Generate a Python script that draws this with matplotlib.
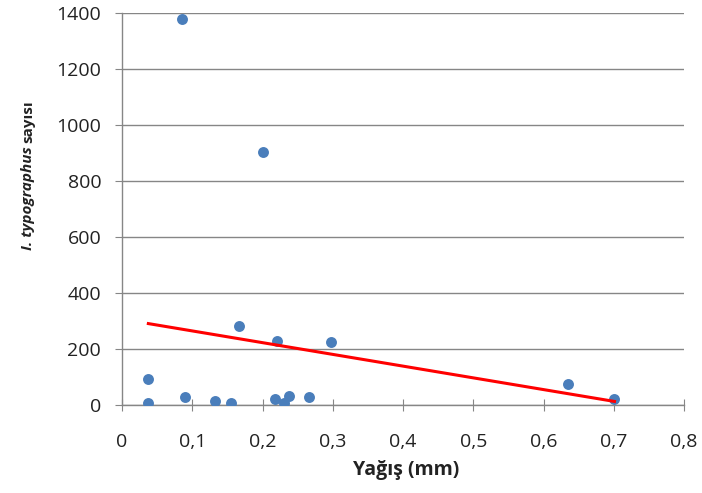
import numpy as np
import matplotlib.pyplot as plt

# yağış (mm) ve I. typographus sayısı
yagis = [0.086, 0.200, 0.0375, 0.0375, 0.089, 0.132, 0.155, 0.167,
         0.221, 0.218, 0.230, 0.237, 0.266, 0.297, 0.635, 0.701]
sayi = [1379, 904, 93, 6, 27, 15, 8, 281,
        230, 21, 6, 32, 30, 226, 74, 20]

x_ticks = [0, 0.1, 0.2, 0.3, 0.4, 0.5, 0.6, 0.7, 0.8]
x_labels = ['0', '0,1', '0,2', '0,3', '0,4', '0,5', '0,6', '0,7', '0,8']
y_ticks = [0, 200, 400, 600, 800, 1000, 1200, 1400]

plt.rcParams['font.family'] = ['Open Sans', 'DejaVu Sans']

fig = plt.figure(figsize=(7.02, 4.93), dpi=100)
ax = fig.add_axes([0.1738, 0.1785, 0.8006, 0.7945])

gray = '#868686'
ax.scatter(yagis, sayi, s=62, color='#4A7EBB', zorder=3, linewidths=0)

# doğrusal eğilim çizgisi (veri aralığında)
k, b = np.polyfit(yagis, sayi, 1)
xs = np.array([min(yagis), max(yagis)])
ax.plot(xs, k * xs + b, color='#FF0000', lw=2.2, zorder=4)

ax.set_xlim(0, 0.8)
ax.set_ylim(0, 1400)
ax.set_xticks(x_ticks)
ax.set_xticklabels(x_labels)
ax.set_yticks(y_ticks)
ax.grid(axis='y', color=gray, lw=1)
ax.set_axisbelow(True)

for s in ['top', 'right']:
    ax.spines[s].set_visible(False)
for s in ['left', 'bottom']:
    ax.spines[s].set_color(gray)
    ax.spines[s].set_linewidth(1)
ax.tick_params(axis='x', direction='inout', length=9, color=gray,
               labelsize=14, labelcolor='#222222', pad=16)
ax.tick_params(axis='y', direction='out', length=5, color=gray,
               labelsize=14, labelcolor='#222222', pad=10)

fig.text(0.578, 0.047, 'Yağış (mm)', ha='center', va='center',
         fontsize=14, fontweight='bold', color='#222222')

# y ekseni başlığı: italik kısım + düz kısım
kw = dict(rotation=90, ha='center', va='bottom', fontsize=11,
          fontweight='bold', color='#222222')
t1 = fig.text(0.040, 0.0, 'I. typographus', style='italic', **kw)
t2 = fig.text(0.040, 0.0, 'sayısı', **kw)
fig.canvas.draw()
inv = fig.transFigure.inverted()
h1 = t1.get_window_extent().transformed(inv).height
h2 = t2.get_window_extent().transformed(inv).height
gap = 0.006
start = 0.645 - (h1 + gap + h2) / 2
t1.set_y(start)
t2.set_y(start + h1 + gap)

fig.savefig('out.png', dpi=100)
